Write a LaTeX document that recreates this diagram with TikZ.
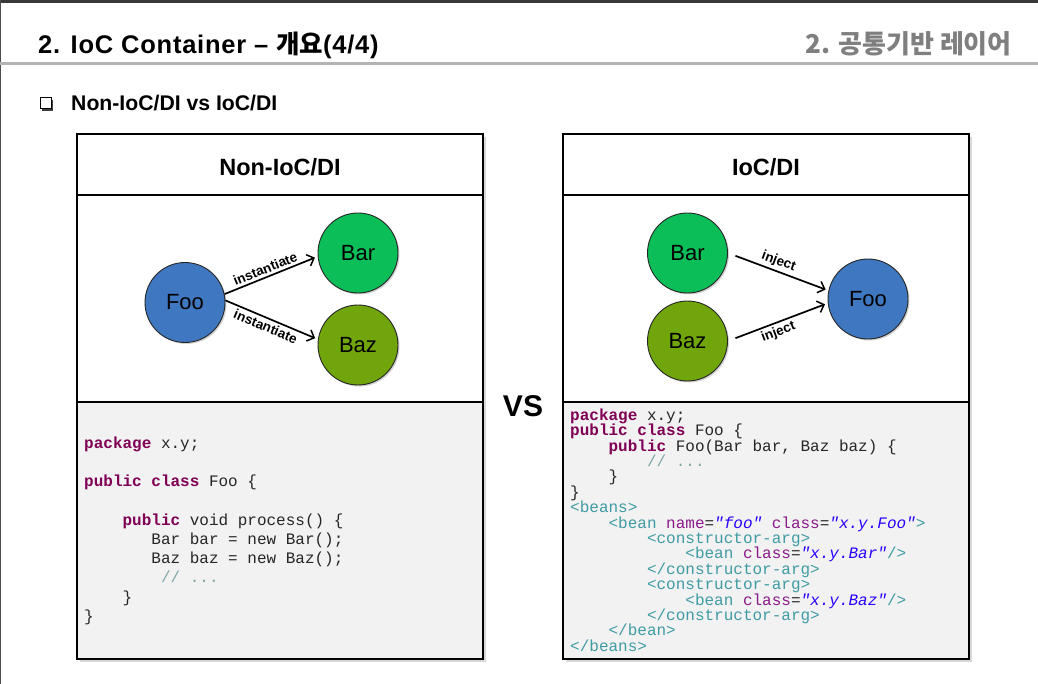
\documentclass[tikz,border=0pt]{standalone}
\usepackage{fontspec}
\setmainfont{Liberation Sans}
\setmonofont{Liberation Mono}
\newfontfamily\krfont{Noto Sans CJK KR}
\usetikzlibrary{arrows.meta,shadows}

\definecolor{foo-blue}{HTML}{3F78C0}
\definecolor{bar-green}{HTML}{0BBE58}
\definecolor{baz-olive}{HTML}{70A50B}
\definecolor{code-bg}{HTML}{F2F2F2}
\definecolor{code-text}{HTML}{262626}
\definecolor{code-kw}{HTML}{7F0055}
\definecolor{code-cmt}{HTML}{7FA6A6}
\definecolor{code-tag}{HTML}{3F9BA3}
\definecolor{code-attr}{HTML}{8B1A8B}
\definecolor{code-val}{HTML}{2A00FF}
\definecolor{rule-gray}{HTML}{B3B3B3}
\definecolor{head-gray}{HTML}{7F7F7F}

\newcommand\jkw[1]{\textcolor{code-kw}{\bfseries #1}}
\newcommand\jcmt[1]{\textcolor{code-cmt}{#1}}
\newcommand\xtag[1]{\textcolor{code-tag}{#1}}
\newcommand\xattr[1]{\textcolor{code-attr}{#1}}
\newcommand\attval[1]{\textcolor{code-val}{\itshape #1}}

\begin{document}
\begin{tikzpicture}[
    x=1pt, y=-1pt,
    panel/.style={draw=black, line width=1.2pt},
    panel title/.style={anchor=base, font=\bfseries\fontsize{23.5}{26}\selectfont},
    ball/.style={
        circle, draw=black!85, line width=0.9pt, minimum size=80pt, inner sep=0pt,
        fill=#1, font=\fontsize{22}{24}\selectfont,
        drop shadow={shadow xshift=1.5pt, shadow yshift=-1.5pt, opacity=0.35},
    },
    link/.style={line width=1.7pt, -{Straight Barb[length=6pt, width=12pt, line width=1.5pt]}},
    link label/.style={font=\bfseries\fontsize{13.5}{14}\selectfont, sloped, inner sep=2.5pt, pos=0.47},
    code line/.style={anchor=base west, inner sep=0pt, text height=10pt, text depth=2.5pt,
        font=\ttfamily\fontsize{16}{19}\selectfont, text=code-text},
]
\useasboundingbox (0,0) rectangle (1038,684);
\fill[white] (0,0) rectangle (1038,684);

% slide frame and heading
\fill[black!78] (0,0) rectangle (1038,3.5);
\fill[black!70] (0,0) rectangle (1.2,684);
\draw[rule-gray, line width=2.2pt] (0,63.5) -- (1038,63.5);
\node[anchor=base west, inner sep=0pt,
    font=\bfseries\fontsize{25.5}{30}\selectfont\addfontfeature{LetterSpace=3}]
    (title) at (38,53.5) {2. IoC Container – {\krfont 개요}(4/4)};
\node[anchor=base east, inner sep=0pt, text=head-gray, font=\krfont\bfseries\fontsize{26}{30}\selectfont]
    (chapter) at (1012,54) {2. 공통기반 레이어};
\node[draw, fill=white, line width=1pt, minimum size=11pt, inner sep=0pt,
    drop shadow={shadow xshift=1.6pt, shadow yshift=-1.6pt, opacity=1, fill=black!75}]
    (bullet) at (46,103.5) {};
\node[anchor=base west, inner sep=0pt, font=\bfseries\fontsize{21.2}{24}\selectfont]
    (subtitle) at (71,111) {Non-IoC/DI vs IoC/DI};

% panels
\foreach \x in {77,563} {
    \fill[white, drop shadow={shadow xshift=3pt, shadow yshift=-3pt, opacity=0.3}]
        (\x,134) rectangle ++(406,525);
    \fill[code-bg] (\x,402) rectangle ++(406,257);
    \draw[panel] (\x,195) -- ++(406,0) (\x,402) -- ++(406,0);
    \draw[panel] (\x,134) rectangle ++(406,525);
}
\node[panel title] (lefttitle) at (280,175.5) {Non-IoC/DI};
\node[panel title] (righttitle) at (766,175.5) {IoC/DI};
\node[anchor=base, inner sep=0pt, font=\bfseries\fontsize{30}{32}\selectfont]
    (versus) at (523,416.5) {VS};

% non-IoC/DI
\node[ball=foo-blue] (lfoo) at (185,302.5) {Foo};
\node[ball=bar-green] (lbar) at (358,253) {Bar};
\node[ball=baz-olive] (lbaz) at (358,345) {Baz};
\draw[link, shorten >=3pt] (lfoo.12) -- node[link label, above] {instantiate} (lbar.185);
\draw[link, shorten >=3pt] (lfoo.3) -- node[link label, below] {instantiate} (lbaz.172);

% IoC/DI
\node[ball=bar-green] (rbar) at (687.5,253) {Bar};
\node[ball=baz-olive] (rbaz) at (687.5,341) {Baz};
\node[ball=foo-blue] (rfoo) at (868,299) {Foo};
\draw[link, shorten <=8pt, shorten >=3pt] (rbar.east) -- node[link label, above] {inject} (rfoo.168);
\draw[link, shorten <=8pt, shorten >=3pt] (rbaz.east) -- node[link label, below] {inject} (rfoo.186);

% code
\foreach \k/\ind/\src in {
    0/0/{\jkw{package} x.y;},
    2/0/{\jkw{public} \jkw{class} Foo \{},
    4/4/{\jkw{public} void process() \{},
    5/7/{Bar bar = new Bar();},
    6/7/{Baz baz = new Baz();},
    7/8/{\jcmt{// ...}},
    8/4/{\}},
    9/0/{\}}}
    \node[code line] (lcode\k) at (84+9.6*\ind, 448.5+19.2*\k) {\src};

\foreach \k/\ind/\src in {
    0/0/{\jkw{package} x.y;},
    1/0/{\jkw{public} \jkw{class} Foo \{},
    2/4/{\jkw{public} Foo(Bar bar, Baz baz) \{},
    3/8/{\jcmt{// ...}},
    4/4/{\}},
    5/0/{\}},
    6/0/{\xtag{<beans>}},
    7/4/{\xtag{<bean} \xattr{name}=\attval{"foo"} \xattr{class}=\attval{"x.y.Foo"}\xtag{>}},
    8/8/{\xtag{<constructor-arg>}},
    9/12/{\xtag{<bean} \xattr{class}=\attval{"x.y.Bar"}\xtag{/>}},
    10/8/{\xtag{</constructor-arg>}},
    11/8/{\xtag{<constructor-arg>}},
    12/12/{\xtag{<bean} \xattr{class}=\attval{"x.y.Baz"}\xtag{/>}},
    13/8/{\xtag{</constructor-arg>}},
    14/4/{\xtag{</bean>}},
    15/0/{\xtag{</beans>}}}
    \node[code line] (rcode\k) at (570+9.6*\ind, 420.2+15.4*\k) {\src};
\end{tikzpicture}
\end{document}
